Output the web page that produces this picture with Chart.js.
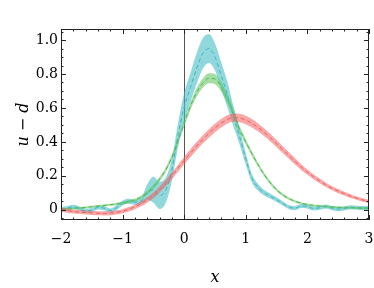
<!DOCTYPE html>
<html>
<head>
<meta charset="utf-8">
<script src="https://cdn.jsdelivr.net/npm/chart.js@4"></script>
<style>
  html, body { margin: 0; padding: 0; background: #fff; }
</style>
</head>
<body>
<canvas id="myChart" width="374" height="288"></canvas>
<script>
// x grid of the curves
const xs = [-2.0, -1.9, -1.8, -1.7, -1.6, -1.5, -1.4, -1.3, -1.2, -1.1,
            -1.0, -0.9, -0.8, -0.7, -0.6, -0.5, -0.4, -0.3, -0.2, -0.1,
             0.0,  0.1,  0.2,  0.3,  0.4,  0.5,  0.6,  0.7,  0.8,  0.9,
             1.0,  1.1,  1.2,  1.3,  1.4,  1.5,  1.6,  1.7,  1.8,  1.9,
             2.0,  2.1,  2.2,  2.3,  2.4,  2.5,  2.6,  2.7,  2.8,  2.9, 3.0];

const xTicks = [-2, -1, 0, 1, 2, 3];
const yTicks = [0, 0.2, 0.4, 0.6, 0.8, 1.0];

// red curve (widest, lowest peak)
const red = [0.0, -0.005, -0.01, -0.013, -0.016, -0.018, -0.02, -0.021, -0.02, -0.015,
             -0.008, 0.003, 0.018, 0.036, 0.058, 0.085, 0.12, 0.158, 0.2, 0.245,
             0.29, 0.333, 0.375, 0.414, 0.45, 0.482, 0.51, 0.532, 0.543, 0.541,
             0.529, 0.51, 0.485, 0.456, 0.424, 0.39, 0.355, 0.32, 0.285, 0.252,
             0.222, 0.195, 0.17, 0.147, 0.127, 0.11, 0.095, 0.081, 0.069, 0.058, 0.048];
const redErr = [0.012, 0.012, 0.012, 0.012, 0.012, 0.012, 0.012, 0.012, 0.012, 0.012,
                0.012, 0.013, 0.014, 0.015, 0.016, 0.017, 0.018, 0.019, 0.02, 0.021,
                0.022, 0.023, 0.024, 0.024, 0.025, 0.025, 0.025, 0.025, 0.025, 0.025,
                0.025, 0.025, 0.024, 0.023, 0.022, 0.021, 0.02, 0.019, 0.018, 0.017,
                0.016, 0.015, 0.014, 0.013, 0.012, 0.012, 0.011, 0.011, 0.01, 0.01, 0.01];

// green curve
const green = [0.0, 0.004, 0.008, 0.011, 0.014, 0.018, 0.022, 0.026, 0.03, 0.034,
               0.04, 0.048, 0.058, 0.075, 0.1, 0.135, 0.18, 0.235, 0.31, 0.405,
               0.51, 0.61, 0.69, 0.745, 0.775, 0.77, 0.725, 0.655, 0.57, 0.475,
               0.4, 0.33, 0.265, 0.207, 0.158, 0.118, 0.088, 0.066, 0.05, 0.039,
               0.031, 0.026, 0.022, 0.019, 0.017, 0.015, 0.013, 0.012, 0.011, 0.01, 0.01];
const greenErr = [0.006, 0.006, 0.006, 0.006, 0.006, 0.006, 0.006, 0.006, 0.006, 0.007,
                  0.007, 0.008, 0.009, 0.01, 0.011, 0.012, 0.013, 0.014, 0.016, 0.018,
                  0.02, 0.022, 0.025, 0.028, 0.03, 0.03, 0.028, 0.025, 0.022, 0.019,
                  0.016, 0.014, 0.012, 0.011, 0.01, 0.009, 0.008, 0.007, 0.007, 0.006,
                  0.006, 0.006, 0.006, 0.006, 0.006, 0.006, 0.006, 0.006, 0.006, 0.006, 0.006];

// cyan curve (highest peak, wiggly tails)
const cyan = [0.005, 0.01, 0.018, 0.008, -0.006, -0.002, 0.014, 0.01, -0.004, 0.012,
              0.04, 0.05, 0.045, 0.052, 0.105, 0.118, 0.085, 0.115, 0.235, 0.44,
              0.605, 0.72, 0.83, 0.92, 0.95, 0.9, 0.79, 0.68, 0.55, 0.43,
              0.3, 0.185, 0.132, 0.1, 0.08, 0.06, 0.038, 0.016, 0.01, 0.022,
              0.02, 0.008, 0.012, 0.02, 0.01, 0.004, 0.008, 0.015, 0.012, 0.01, 0.01];
const cyanErr = [0.012, 0.012, 0.012, 0.012, 0.012, 0.012, 0.012, 0.012, 0.012, 0.015,
                 0.015, 0.015, 0.015, 0.018, 0.045, 0.077, 0.08, 0.075, 0.065, 0.07,
                 0.085, 0.085, 0.09, 0.09, 0.085, 0.08, 0.08, 0.075, 0.06, 0.045,
                 0.035, 0.025, 0.02, 0.016, 0.015, 0.014, 0.013, 0.012, 0.012, 0.012,
                 0.012, 0.012, 0.012, 0.012, 0.012, 0.012, 0.012, 0.012, 0.012, 0.012, 0.012];

const pts = (vals, err, sign) => xs.map((x, i) => ({x: x, y: vals[i] + sign * err[i]}));

function band(vals, err, fillColor) {
  return [
    {data: pts(vals, err, 1), borderWidth: 0, pointRadius: 0, fill: false,
     cubicInterpolationMode: 'monotone'},
    {data: pts(vals, err, -1), borderWidth: 0, pointRadius: 0, fill: '-1',
     backgroundColor: fillColor, cubicInterpolationMode: 'monotone'}
  ];
}
function centre(vals, color) {
  return {data: xs.map((x, i) => ({x: x, y: vals[i]})), borderColor: color, borderWidth: 1,
          borderDash: [4, 3], pointRadius: 0, fill: false, cubicInterpolationMode: 'monotone'};
}

const FONT = 'DejaVu Serif';

// box frame with inward ticks on all four sides
const frameTicks = {
  id: 'frameTicks',
  afterDatasetsDraw(chart) {
    const {ctx, chartArea: a, scales: {x, y}} = chart;
    ctx.save();
    ctx.strokeStyle = '#222';
    ctx.lineWidth = 1;
    ctx.strokeRect(a.left + 0.5, a.top + 0.5, a.right - a.left - 1, a.bottom - a.top - 1);
    ctx.beginPath();
    for (let k = -10; k <= 15; k++) {
      const px = Math.round(x.getPixelForValue(k / 5)) + 0.5;
      const len = k % 5 === 0 ? 5 : 2.5;
      ctx.moveTo(px, a.bottom); ctx.lineTo(px, a.bottom - len);
      ctx.moveTo(px, a.top); ctx.lineTo(px, a.top + len);
    }
    for (let k = -1; k <= 21; k++) {
      const v = k / 20;
      if (v < y.min || v > y.max) continue;
      const py = Math.round(y.getPixelForValue(v)) + 0.5;
      const len = k % 4 === 0 ? 5 : 2.5;
      ctx.moveTo(a.left, py); ctx.lineTo(a.left + len, py);
      ctx.moveTo(a.right, py); ctx.lineTo(a.right - len, py);
    }
    ctx.stroke();
    ctx.restore();
  }
};

const fmt = v => (v < 0 ? '\u2212' : '') + Math.abs(v);

new Chart(document.getElementById('myChart'), {
  type: 'line',
  data: {
    datasets: [
      ...band(red, redErr, 'rgba(245, 95, 95, 0.55)'),
      ...band(green, greenErr, 'rgba(90, 195, 90, 0.55)'),
      ...band(cyan, cyanErr, 'rgba(70, 190, 195, 0.6)'),
      centre(red, '#e35a5a'),
      centre(green, '#3faa3f'),
      centre(cyan, '#2aa9b4')
    ]
  },
  options: {
    responsive: false,
    animation: false,
    devicePixelRatio: 1,
    layout: {padding: {top: 29, right: 5, left: 0, bottom: 0}},
    plugins: {legend: {display: false}, tooltip: {enabled: false}},
    scales: {
      x: {
        type: 'linear', min: -2, max: 3,
        afterBuildTicks: s => { s.ticks = xTicks.map(v => ({value: v})); },
        afterFit: s => { s.height = 68; s.paddingLeft = 0; s.paddingRight = 0; },
        grid: {drawTicks: false, color: c => (c.tick && c.tick.value === 0 ? '#555' : 'transparent'), lineWidth: 1},
        border: {display: false},
        ticks: {padding: 11, color: '#000', font: {family: FONT, size: 14}, maxRotation: 0,
                callback: v => fmt(v)},
        title: {display: true, text: 'x', color: '#000', padding: {top: 0, bottom: 1},
                font: {family: FONT, size: 16, style: 'italic'}}
      },
      y: {
        type: 'linear', min: -0.06, max: 1.065,
        afterBuildTicks: s => { s.ticks = yTicks.map(v => ({value: v})); },
        afterFit: s => { s.width = 61; s.paddingTop = 0; s.paddingBottom = 0; },
        grid: {display: false, drawTicks: false},
        border: {display: false},
        ticks: {padding: 3, color: '#000', font: {family: FONT, size: 14},
                callback: v => (v === 0 ? '0' : v.toFixed(1))},
        title: {display: true, text: 'u \u2212 d', color: '#000', padding: {top: 14, bottom: 0},
                font: {family: FONT, size: 16, style: 'italic'}}
      }
    }
  },
  plugins: [frameTicks]
});
</script>
</body>
</html>
